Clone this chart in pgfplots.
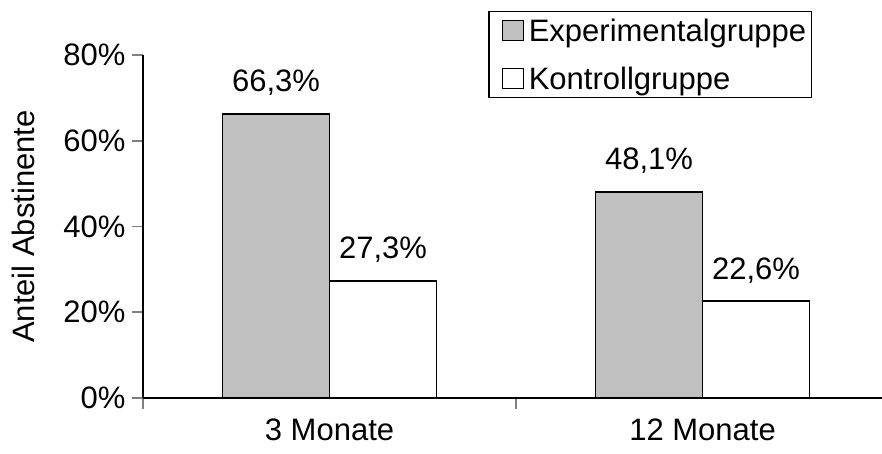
\documentclass[border=0pt]{standalone}
\usepackage{fontspec}
\setmainfont{Liberation Sans}
\usepackage{pgfplots}
\pgfplotsset{compat=1.18}

\definecolor{expgray}{RGB}{192,192,192}
\newcommand{\chartfont}{\fontsize{31}{37}\selectfont}

\begin{document}
\begin{tikzpicture}
\useasboundingbox (0pt,0pt) rectangle (882pt,454pt);
\begin{axis}[
    at={(143pt,56pt)}, anchor=south west,
    scale only axis,
    width=739pt, height=343pt,
    xmin=0, xmax=1.981,
    ymin=0, ymax=80,
    axis lines*=left,
    axis line style={line width=1.6pt},
    clip=false,
    ybar, bar width=107pt,
    xtick={0.5,1.5},
    xticklabels={3 Monate, 12 Monate},
    major x tick style={draw=none},
    minor xtick={0,1,2},
    minor x tick style={line width=1.6pt},
    minor tick length=11pt,
    ytick={0,20,40,60,80},
    yticklabels={0\%,20\%,40\%,60\%,80\%},
    major tick length=11pt,
    tick align=outside,
    y tick style={line width=1.6pt},
    tick label style={font=\chartfont},
    xticklabel style={yshift=-6pt},
    yticklabel style={xshift=-3pt},
    ylabel={Anteil Abstinente},
    ylabel style={font=\chartfont, at={(axis description cs:-0.162,0.5)}, anchor=center},
    /pgf/number format/assume math mode=true,
    nodes near coords={\pgfmathprintnumber[fixed,fixed zerofill,precision=1,use comma]{\pgfplotspointmeta}\%},
    every node near coord/.append style={font=\chartfont, yshift=14pt},
    legend style={at={(axis description cs:0.467,1.128)}, anchor=north west,
        draw=black, line width=1.4pt, font=\chartfont,
        inner xsep=2pt, inner ysep=4pt, row sep=18pt,
        nodes={inner sep=3pt}},
    legend cell align=left,
    legend image code/.code={\path[draw=none,fill=none] (0pt,0pt) (35pt,0pt); \draw[#1, line width=1.2pt] (12pt,-10pt) rectangle (33pt,10pt);},
]
\addplot[bar shift=-53.5pt, fill=expgray, draw=black, line width=1.6pt]
    coordinates {(0.5,66.3) (1.5,48.1)};
\addplot[bar shift=53.5pt, fill=white, draw=black, line width=1.6pt]
    coordinates {(0.5,27.3) (1.5,22.6)};
\legend{Experimentalgruppe, Kontrollgruppe}
\end{axis}
\end{tikzpicture}
\end{document}
